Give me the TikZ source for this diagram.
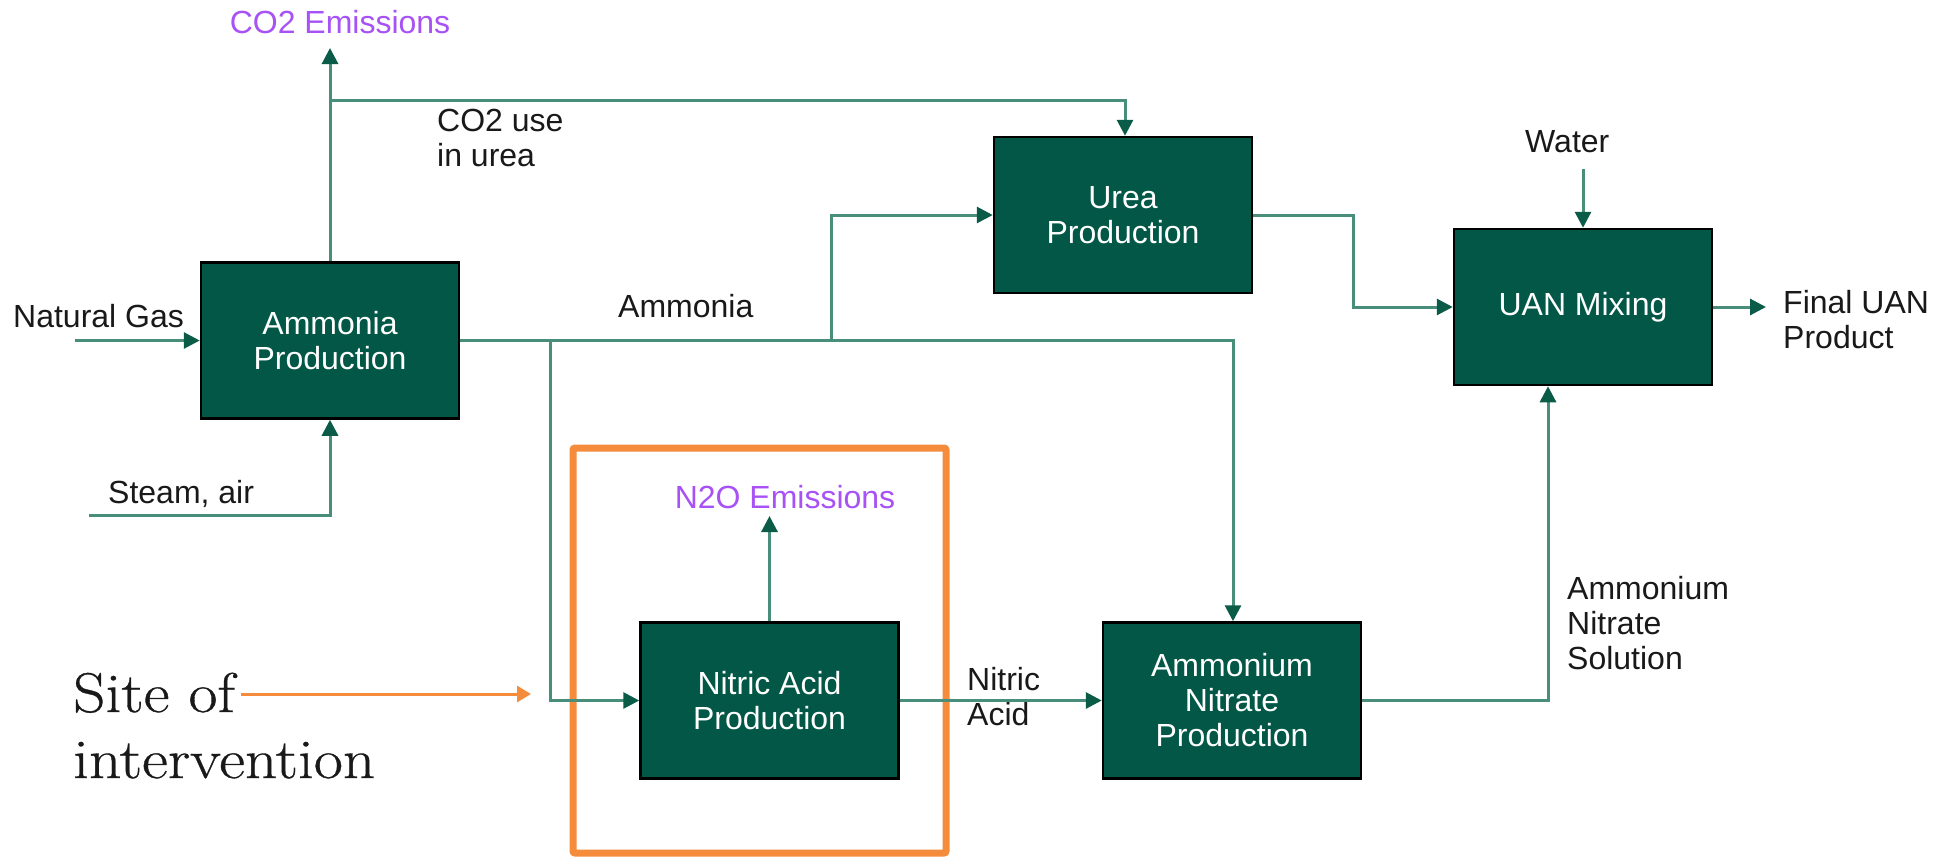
\documentclass[tikz,border=0pt]{standalone}
\usepackage{fontspec}
\newfontfamily\arialf{Liberation Sans}
\newfontfamily\sitefont{Latin Modern Roman}[FakeStretch=1.13,FakeBold=0.6]
\usetikzlibrary{arrows.meta}
\definecolor{boxgreen}{RGB}{2,87,70}
\definecolor{linegreen}{RGB}{72,142,122}
\definecolor{arrowgreen}{RGB}{10,92,72}
\definecolor{emispurple}{RGB}{168,82,245}
\definecolor{hiorange}{RGB}{245,140,60}
\definecolor{labelblack}{RGB}{25,25,25}
\tikzset{
  proc/.style={draw=black, line width=2.5pt, fill=boxgreen, text=white,
    minimum width=258pt, minimum height=156pt, align=center, inner sep=0pt,
    font=\arialf\fontsize{32}{35}\selectfont},
  lbl/.style={font=\arialf\fontsize{32}{35}\selectfont, text=labelblack, align=left, inner sep=0pt},
  emis/.style={lbl, text=emispurple},
  flow/.style={draw=linegreen, line width=3pt, -{Triangle[length=16pt,width=16pt,color=arrowgreen]}},
  sitetext/.style={font=\sitefont\fontsize{56}{66}\selectfont, text=labelblack, inner sep=0pt, anchor=base west},
  hibox/.style={draw=hiorange, line width=7pt, rounded corners=2pt},
  hiarrow/.style={draw=hiorange, line width=3pt, -{Triangle[length=14pt,width=16pt,color=hiorange]}}
}
\begin{document}
\begin{tikzpicture}[x=1pt,y=-1pt]
\useasboundingbox[fill=white] (0,0) rectangle (1944,857);

% process boxes
\node[proc] (amm) at (330,340.5) {Ammonia\\Production};
\node[proc] (urea) at (1123,215) {Urea\\Production};
\node[proc] (uan) at (1583,307) {UAN Mixing};
\node[proc] (nit) at (769.5,700.5) {Nitric Acid\\Production};
\node[proc] (an) at (1232,700.5) {Ammonium\\Nitrate\\Production};

% highlight box
\draw[hibox] (573,448) rectangle (946,853);

% coordinates
\coordinate (co2tip) at (330,48);
\coordinate (co2split) at (330,100);
\coordinate (ngstart) at (75,340.5);
\coordinate (steamstart) at (89,515);
\coordinate (ubr) at (831,340.5);
\coordinate (nbr) at (550,340.5);
\coordinate (n2otip) at (769.5,516);
\coordinate (watertop) at (1583,169);
\coordinate (finaltip) at (1766,307);
\coordinate (sitetip) at (531,694);

% labels (base anchor = baseline of last line)
\node[emis, anchor=base] (co2lbl) at (340,33) {CO2 Emissions};
\node[lbl, anchor=base west] (co2use) at (437,166) {CO2 use\\in urea};
\node[lbl, anchor=base west] (nglbl) at (13,327) {Natural Gas};
\node[lbl, anchor=base west] (steamlbl) at (108,503) {Steam, air};
\node[lbl, anchor=base west] (ammlbl) at (618,317) {Ammonia};
\node[lbl, anchor=base west] (waterlbl) at (1525,152) {Water};
\node[lbl, anchor=base west] (finallbl) at (1783,348) {Final UAN\\Product};
\node[lbl, anchor=base west] (nalbl) at (967,725) {Nitric\\Acid};
\node[lbl, anchor=base west] (anslbl) at (1567,669) {Ammonium\\Nitrate\\Solution};
\node[emis, anchor=base] (n2olbl) at (785,508) {N2O Emissions};
\node[sitetext] (site1) at (73,712) {Site of};
\node[sitetext] (site2) at (73,778) {intervention};

% connectors
\draw[flow] (amm.north) -- (co2tip);
\draw[flow] (co2split) -| ([xshift=2pt]urea.north);
\draw[flow] (ngstart) -- (amm.west);
\draw[flow] (steamstart) -| (amm.south);
\draw[flow] (amm.east) -| ([xshift=1pt]an.north);
\draw[flow] (ubr) |- (urea.west);
\draw[flow] (nbr) |- (nit.west);
\draw[flow] (nit.east) -- (an.west);
\draw[flow] (nit.north) -- (n2otip);
\draw[flow] (an.east) -| ([xshift=-35pt]uan.south);
\draw[flow] (urea.east) -- ++(100,0) |- (uan.west);
\draw[flow] (watertop) -- (uan.north);
\draw[flow] (uan.east) -- (finaltip);
\draw[hiarrow] (241,694) -- (sitetip);
\end{tikzpicture}
\end{document}
